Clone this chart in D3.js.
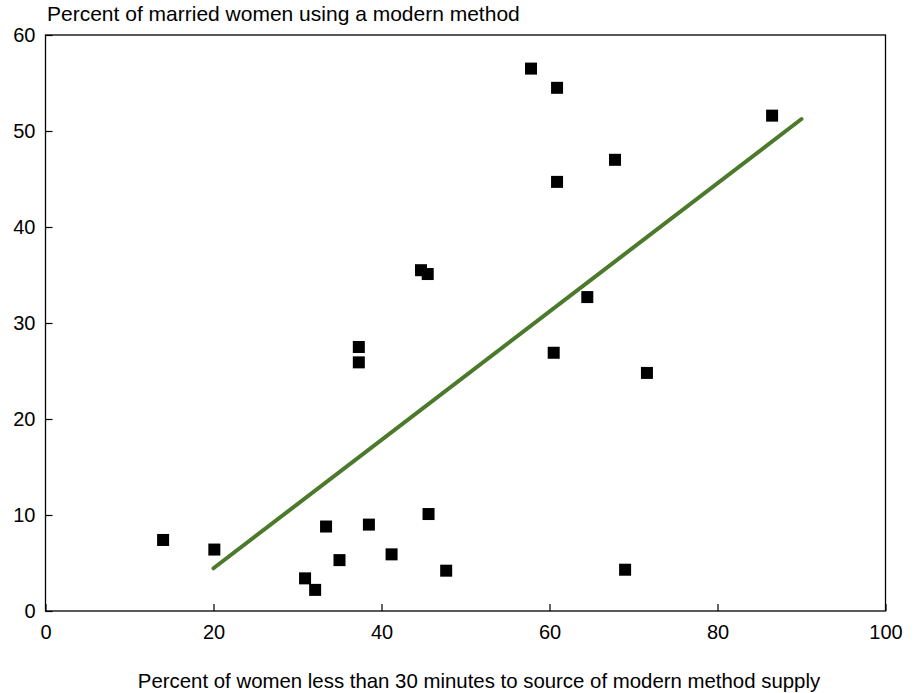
<!DOCTYPE html>
<html>
<head>
<meta charset="utf-8">
<script src="https://cdn.jsdelivr.net/npm/d3@7"></script>
<style>
  body { margin: 0; background: #fff; }
  text { font-family: "Liberation Sans", Arial, sans-serif; }
</style>
</head>
<body>
<div id="chart"></div>
<script>
const width = 919;
const height = 693;
const margin = { top: 35, right: 33.5, bottom: 82, left: 45.5 };

// percent of women less than 30 minutes to supply (x) vs percent using modern method (y)
const accessPct = [14.0, 20.1, 30.9, 32.1, 33.4, 35.0, 37.3, 37.3, 38.5, 41.2, 44.7, 45.5,
  45.6, 47.7, 57.8, 60.9, 60.9, 60.5, 64.5, 67.8, 69.0, 71.6, 86.5];
const usePct = [7.4, 6.4, 3.4, 2.2, 8.8, 5.3, 27.5, 25.9, 9.0, 5.9, 35.5, 35.1,
  10.1, 4.2, 56.5, 54.5, 44.7, 26.9, 32.7, 47.0, 4.3, 24.8, 51.6];

// fitted trend line end points
const trendX = [20, 90];
const trendY = [4.45, 51.25];

const xTicks = [0, 20, 40, 60, 80, 100];
const yTicks = [0, 10, 20, 30, 40, 50, 60];

const yTitle = 'Percent of married women using a modern method';
const xTitle = 'Percent of women less than 30 minutes to source of modern method supply';

const svg = d3.select('#chart')
  .append('svg')
  .attr('width', width)
  .attr('height', height);

const x = d3.scaleLinear().domain([0, 100]).range([margin.left, width - margin.right]);
const y = d3.scaleLinear().domain([0, 60]).range([height - margin.bottom, margin.top]);

// frame
svg.append('rect')
  .attr('x', x(0))
  .attr('y', y(60))
  .attr('width', x(100) - x(0))
  .attr('height', y(0) - y(60))
  .attr('fill', 'none')
  .attr('stroke', '#000')
  .attr('stroke-width', 1.3);

const xAxis = d3.axisBottom(x).tickValues(xTicks).tickSize(-7).tickPadding(14);
const yAxis = d3.axisLeft(y).tickValues(yTicks).tickSize(-7).tickPadding(10);

const gx = svg.append('g')
  .attr('transform', `translate(0,${y(0)})`)
  .call(xAxis);
const gy = svg.append('g')
  .attr('transform', `translate(${x(0)},0)`)
  .call(yAxis);

[gx, gy].forEach(g => {
  g.select('.domain').remove();
  g.selectAll('.tick line').attr('stroke', '#000').attr('stroke-width', 1.2);
  g.selectAll('.tick text')
    .attr('fill', '#000')
    .style('font-size', '20px');
});

// trend line
const line = d3.line().x(d => x(d[0])).y(d => y(d[1]));
svg.append('path')
  .datum(d3.zip(trendX, trendY))
  .attr('d', line)
  .attr('fill', 'none')
  .attr('stroke', '#4b7a2b')
  .attr('stroke-width', 4)
  .attr('stroke-linecap', 'round');

// points
const sz = 12;
svg.selectAll('rect.pt')
  .data(d3.zip(accessPct, usePct))
  .enter().append('rect')
  .attr('class', 'pt')
  .attr('x', d => x(d[0]) - sz / 2)
  .attr('y', d => y(d[1]) - sz / 2)
  .attr('width', sz)
  .attr('height', sz)
  .attr('fill', '#000');

svg.append('text')
  .attr('x', 47)
  .attr('y', 21)
  .style('font-size', '21px')
  .text(yTitle);

svg.append('text')
  .attr('x', (138 + 820) / 2)
  .attr('y', 688)
  .attr('text-anchor', 'middle')
  .style('font-size', '20.4px')
  .text(xTitle);
</script>
</body>
</html>
